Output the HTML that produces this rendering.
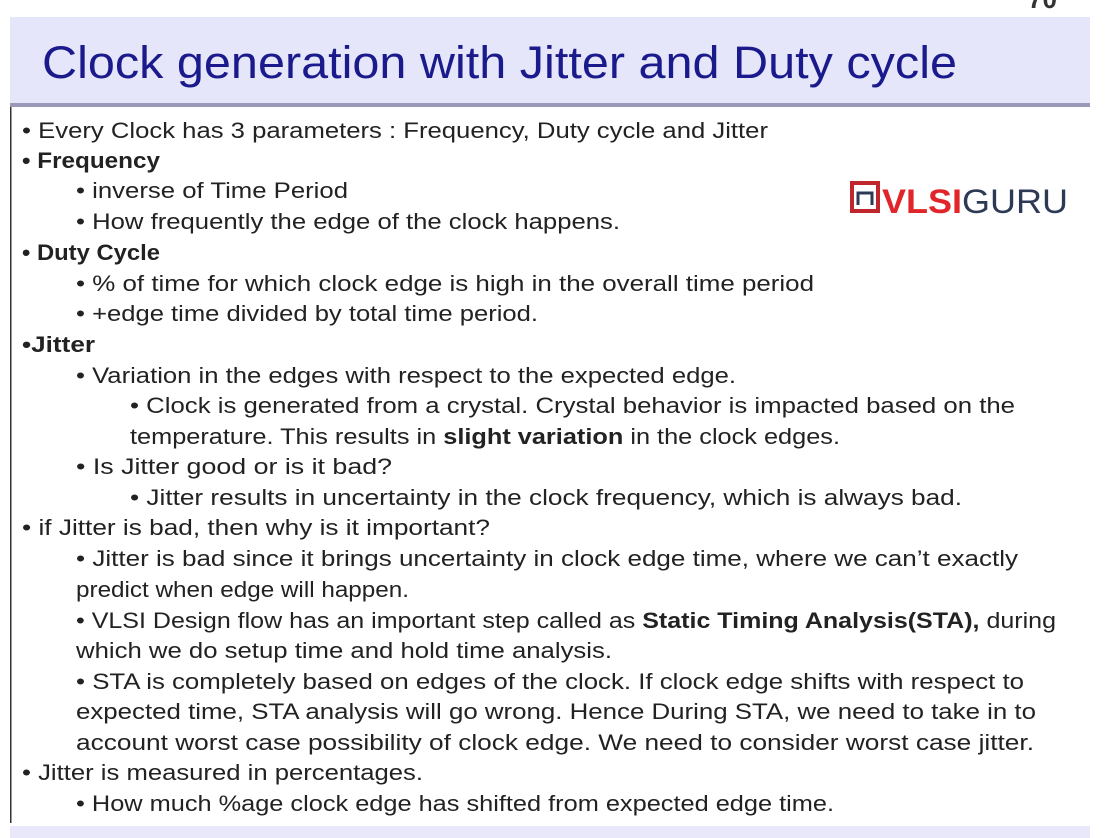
<!DOCTYPE html>
<html><head><meta charset="utf-8"><style>
html,body{margin:0;padding:0;background:#fff;width:1107px;height:838px;overflow:hidden}
svg{display:block}
text{font-family:"Liberation Sans",sans-serif}
.b text{fill:#222}
</style></head><body>
<svg width="1107" height="838" viewBox="0 0 1107 838">
<text x="1028" y="8" font-size="26" font-weight="bold" style="fill:#333">70</text>
<rect x="10" y="17" width="1080" height="87" fill="#e6e6fa"/>
<rect x="10" y="103" width="1080" height="4" fill="#9a9ab8"/>
<text x="42" y="78" font-size="45" style="fill:#1a1a8c" textLength="915" lengthAdjust="spacingAndGlyphs">Clock generation with Jitter and Duty cycle</text>
<rect x="10" y="107" width="1.5" height="716" fill="#333"/>
<rect x="10" y="826" width="1080" height="12" fill="#e8e8fa"/>
<g>
<rect x="852" y="183" width="26" height="28" fill="none" stroke="#c0272d" stroke-width="4"/>
<path d="M858 205 v-12 h14 v12" fill="none" stroke="#2d3a55" stroke-width="3"/>
<text x="882" y="213" font-size="34" font-weight="bold" style="fill:#e0262b" textLength="186" lengthAdjust="spacingAndGlyphs">VLSI<tspan style="fill:#2d3a55" font-weight="normal">GURU</tspan></text>
</g>
<g class="b" font-size="22">
<text x="22" y="138" textLength="746" lengthAdjust="spacingAndGlyphs">• Every Clock has 3 parameters : Frequency, Duty cycle and Jitter</text>
<text x="22" y="168" font-weight="bold" textLength="138" lengthAdjust="spacingAndGlyphs">• Frequency</text>
<text x="76" y="198" textLength="272" lengthAdjust="spacingAndGlyphs">• inverse of Time Period</text>
<text x="76" y="229" textLength="544" lengthAdjust="spacingAndGlyphs">• How frequently the edge of the clock happens.</text>
<text x="22" y="260" font-weight="bold" textLength="138" lengthAdjust="spacingAndGlyphs">• Duty Cycle</text>
<text x="76" y="291" textLength="738" lengthAdjust="spacingAndGlyphs">• % of time for which clock edge is high in the overall time period</text>
<text x="76" y="321" textLength="462" lengthAdjust="spacingAndGlyphs">• +edge time divided by total time period.</text>
<text x="22" y="352" font-weight="bold" textLength="73" lengthAdjust="spacingAndGlyphs">•Jitter</text>
<text x="76" y="383" textLength="660" lengthAdjust="spacingAndGlyphs">• Variation in the edges with respect to the expected edge.</text>
<text x="130" y="413" textLength="885" lengthAdjust="spacingAndGlyphs">• Clock is generated from a crystal. Crystal behavior is impacted based on the</text>
<text x="130" y="444" textLength="710" lengthAdjust="spacingAndGlyphs">temperature. This results in <tspan font-weight="bold">slight variation</tspan> in the clock edges.</text>
<text x="76" y="474" textLength="316" lengthAdjust="spacingAndGlyphs">• Is Jitter good or is it bad?</text>
<text x="130" y="505" textLength="832" lengthAdjust="spacingAndGlyphs">• Jitter results in uncertainty in the clock frequency, which is always bad.</text>
<text x="22" y="535" textLength="468" lengthAdjust="spacingAndGlyphs">• if Jitter is bad, then why is it important?</text>
<text x="76" y="566" textLength="942" lengthAdjust="spacingAndGlyphs">• Jitter is bad since it brings uncertainty in clock edge time, where we can’t exactly</text>
<text x="76" y="597" textLength="333" lengthAdjust="spacingAndGlyphs">predict when edge will happen.</text>
<text x="76" y="628" textLength="980" lengthAdjust="spacingAndGlyphs">• VLSI Design flow has an important step called as <tspan font-weight="bold">Static Timing Analysis(STA),</tspan> during</text>
<text x="76" y="658" textLength="536" lengthAdjust="spacingAndGlyphs">which we do setup time and hold time analysis.</text>
<text x="76" y="689" textLength="948" lengthAdjust="spacingAndGlyphs">• STA is completely based on edges of the clock. If clock edge shifts with respect to</text>
<text x="76" y="719" textLength="960" lengthAdjust="spacingAndGlyphs">expected time, STA analysis will go wrong. Hence During STA, we need to take in to</text>
<text x="76" y="750" textLength="958" lengthAdjust="spacingAndGlyphs">account worst case possibility of clock edge. We need to consider worst case jitter.</text>
<text x="22" y="780" textLength="401" lengthAdjust="spacingAndGlyphs">• Jitter is measured in percentages.</text>
<text x="76" y="811" textLength="758" lengthAdjust="spacingAndGlyphs">• How much %age clock edge has shifted from expected edge time.</text>
</g>
</svg>
</body></html>
